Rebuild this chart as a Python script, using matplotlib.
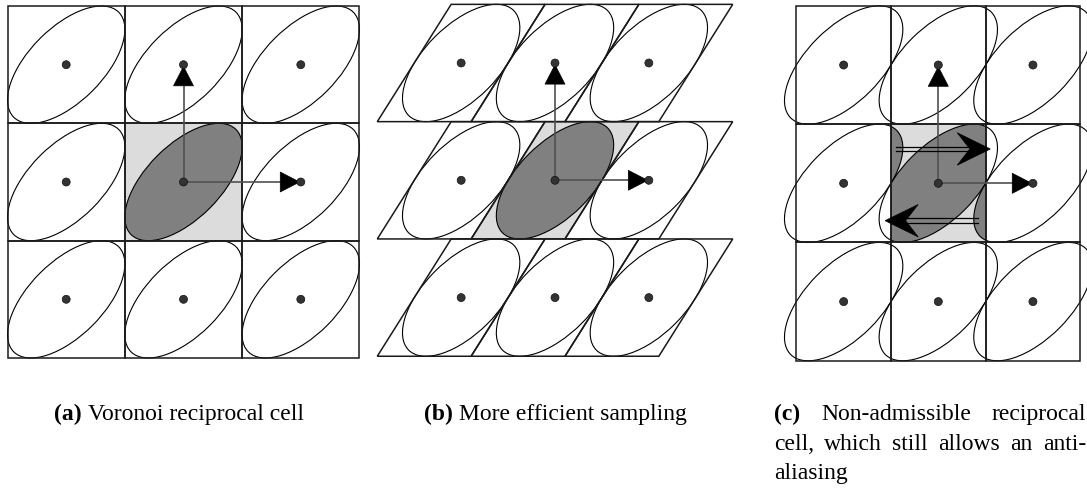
import numpy as np
import matplotlib.pyplot as plt
from matplotlib.patches import Ellipse, Polygon, Rectangle, Circle

W, H = 1087, 490

# lattice indices around the centre point
cols = [-1, 0, 1]
rows = [-1, 0, 1]

# support of the spectrum (ellipse), in lattice units
ell_a = 0.633
ell_b = 0.316
ell_angle = 45

# per panel: pixel position of centre point, pixel size of one unit,
# horizontal lattice step, shear of the cell, pixel extent of the panel
panel_centre = [(183.5, 182.0), (555.0, 180.3), (938.3, 183.3)]
panel_unit = [117.3, 117.3, 118.3]
panel_dx = [1.0, 0.8, 0.8]
panel_shear = [0.0, 0.63, 0.0]
panel_box = [(0, 372), (372, 760), (760, 1087)]

cap_a = [("(a)", "bold"), ("Voronoi reciprocal cell", "normal")]
cap_b = [("(b)", "bold"), ("More efficient sampling", "normal")]
cap_c = [
    [("(c)", "bold"), ("Non-admissible", "normal"), ("reciprocal", "normal")],
    [("cell,", "normal"), ("which", "normal"), ("still", "normal"),
     ("allows", "normal"), ("an", "normal"), ("anti-", "normal")],
    [("aliasing", "normal")],
]

LIGHT = "#dcdcdc"
DARK = "#808080"
DOT = "#333333"
FS = 17

fig = plt.figure(figsize=(W / 100, H / 100), dpi=100)


def panel_axes(k):
    x0, x1 = panel_box[k]
    y0, y1 = 0, 372
    cx, cy = panel_centre[k]
    u = panel_unit[k]
    ax = fig.add_axes([x0 / W, 1 - y1 / H, (x1 - x0) / W, (y1 - y0) / H])
    ax.set_xlim((x0 - cx) / u, (x1 - cx) / u)
    ax.set_ylim((cy - y1) / u, (cy - y0) / u)
    ax.axis("off")
    return ax


def cell(px, py, dx, s):
    return [(px - dx / 2 - s / 2, py - 0.5), (px + dx / 2 - s / 2, py - 0.5),
            (px + dx / 2 + s / 2, py + 0.5), (px - dx / 2 + s / 2, py + 0.5)]


def head(ax, tip, d, length, hw, notch=1.0):
    d = np.array(d, float)
    n = np.array([-d[1], d[0]])
    tip = np.array(tip, float)
    back = tip - d * length
    pts = [tip, back + n * hw, tip - d * length * notch, back - n * hw]
    ax.add_patch(Polygon(pts, closed=True, fc="black", ec="black", lw=0.5, zorder=6))


def basis_arrows(ax, dx):
    ax.plot([0, 0], [0, 1 - 0.16], color="#505050", lw=1.2, zorder=5)
    head(ax, (0, 0.985), (0, 1), 0.165, 0.085)
    ax.plot([0, dx - 0.16], [0, 0], color="#505050", lw=1.2, zorder=5)
    head(ax, (dx - 0.01, 0), (1, 0), 0.165, 0.085)


def draw_panel(k):
    ax = panel_axes(k)
    dx, s = panel_dx[k], panel_shear[k]
    # shaded reciprocal cell
    centre_cell = Polygon(cell(0, 0, dx, s), closed=True, fc=LIGHT, ec="none",
                          transform=ax.transData, zorder=1)
    ax.add_patch(centre_cell)
    if k < 2:
        ax.add_patch(Ellipse((0, 0), 2 * ell_a, 2 * ell_b, angle=ell_angle,
                             fc=DARK, ec="none", zorder=2))
    else:
        # spectrum folded back into the cell
        for j in cols:
            e = Ellipse((j * dx, 0), 2 * ell_a, 2 * ell_b, angle=ell_angle,
                        fc=DARK, ec="none", zorder=2)
            ax.add_patch(e)
            e.set_clip_path(centre_cell)
    for i in rows:
        for j in cols:
            px, py = j * dx, i
            ax.add_patch(Polygon(cell(px, py, dx, s), closed=True, fill=False,
                                 ec="#1a1a1a", lw=1.1, zorder=4))
            ax.add_patch(Ellipse((px, py), 2 * ell_a, 2 * ell_b, angle=ell_angle,
                                 fill=False, ec="black", lw=0.8, zorder=3))
            ax.add_patch(Circle((px, py), 0.034, fc=DOT, ec="#111111", lw=0.5, zorder=7))
    basis_arrows(ax, dx)
    return ax


draw_panel(0)
draw_panel(1)
axc = draw_panel(2)

# folding arrows in (c)
for y0, xs, xt, d in [(0.29, -0.36, 0.44, (1, 0)), (-0.316, 0.336, -0.45, (-1, 0))]:
    xn = xt - d[0] * 0.287 * 0.65
    for off in (-0.021, 0.021):
        axc.plot([xs, xn], [y0 + off, y0 + off], color="black", lw=0.9, zorder=6)
    head(axc, (xt, y0), d, 0.28, 0.137, notch=0.62)


# captions
def put_words(words, x_left, y_base, x_right=None):
    arts = [fig.text(0, 1 - y_base / H, t, fontsize=FS, fontweight=w,
                     family="Liberation Serif", va="baseline") for t, w in words]
    fig.canvas.draw()
    r = fig.canvas.get_renderer()
    widths = [a.get_window_extent(r).width for a in arts]
    if x_right is not None and len(words) > 1:
        gap = (x_right - x_left - sum(widths)) / (len(words) - 1)
    else:
        gap = 0.25 * FS * 100 / 72
    x = x_left
    for a, wd in zip(arts, widths):
        a.set_x(x / W)
        x += wd + gap


put_words(cap_a, 54, 420)
put_words(cap_b, 424, 420)
put_words(cap_c[0], 774, 420, 1086)
put_words(cap_c[1], 774, 450, 1086)
put_words(cap_c[2], 774, 479)

fig.savefig("out.png", dpi=100)
